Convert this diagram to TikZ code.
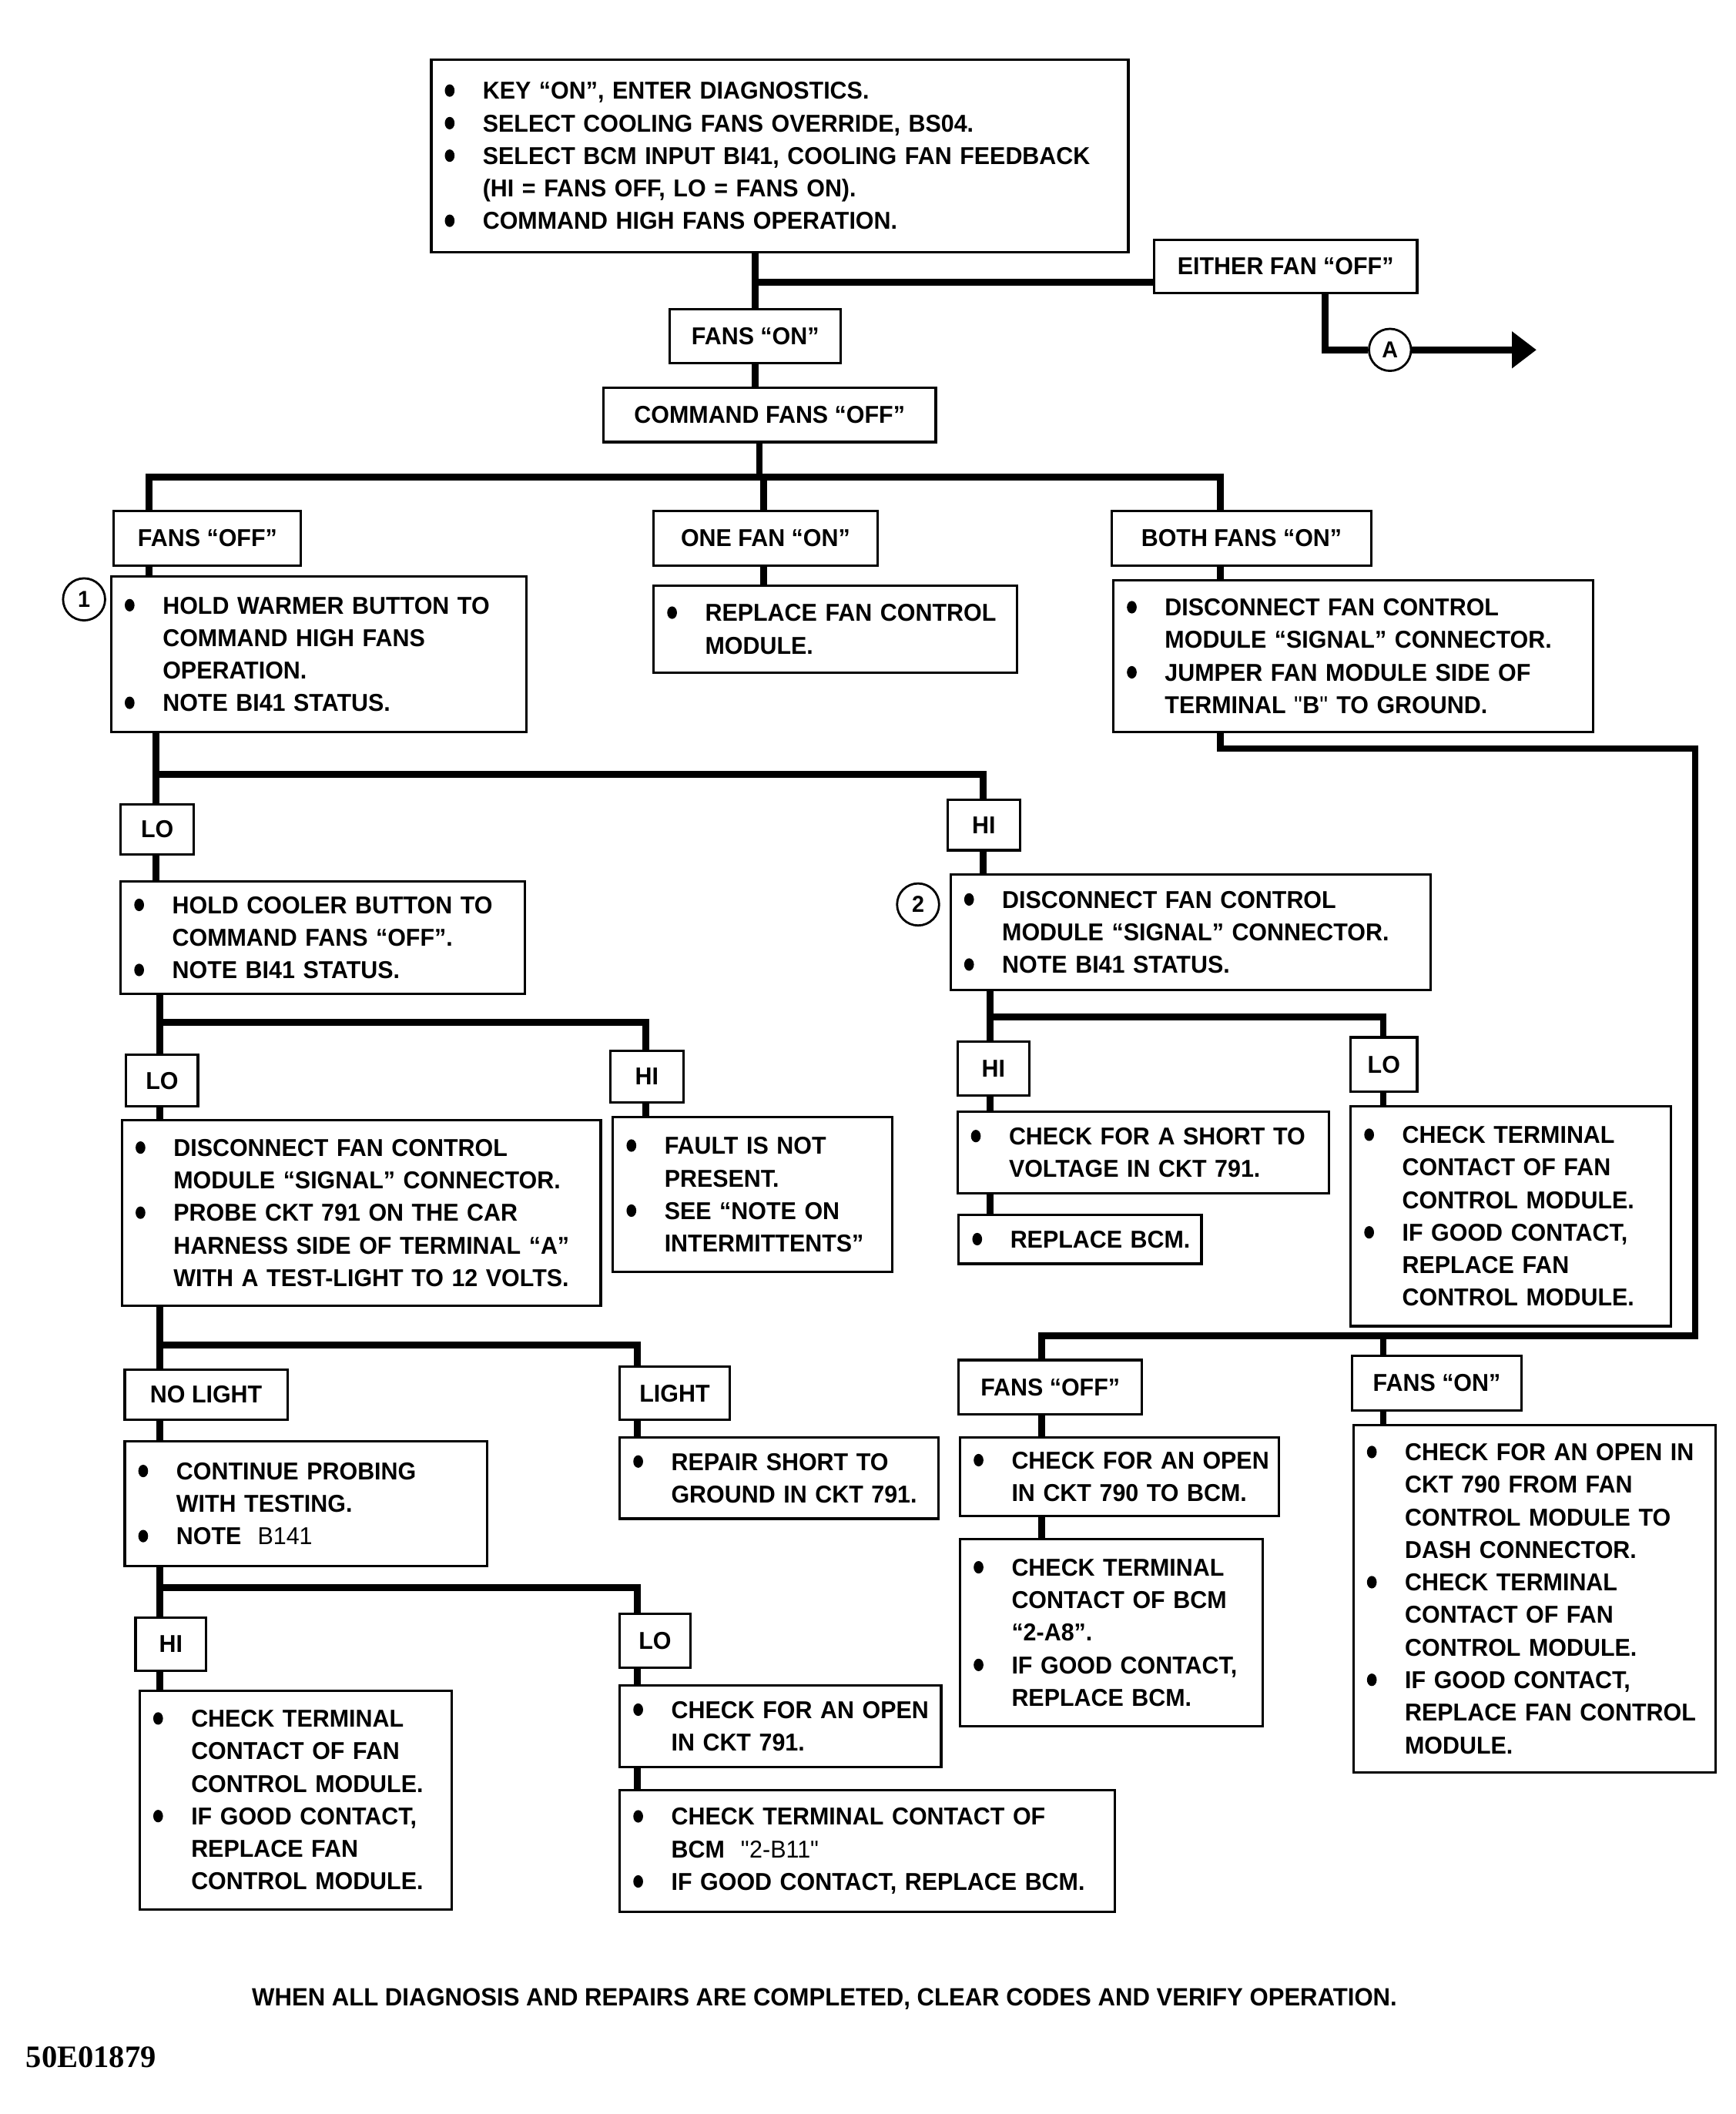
\documentclass[tikz,border=0pt]{standalone}
\usepackage{fontspec}
\setmainfont{Liberation Sans}[FakeStretch=0.96]
\newfontfamily\codefont{Liberation Serif}
\usetikzlibrary{arrows.meta}
\newcommand\bul{\tikz[baseline=0pt,x=1pt,y=1pt]\fill (3.6,6.4) ellipse [x radius=3.6, y radius=4.6];}
\newcommand\qd{{\mdseries\textquotedbl}}
\newcommand\bl[1]{\hspace*{10pt}\makebox[28pt][l]{\bul}\mbox{#1}}
\newcommand\cl[1]{\hspace*{38pt}\mbox{#1}}
\newcommand\bbox[6]{%
  \pgfmathsetmacro\bw{#4-#2}\pgfmathsetmacro\bh{#5-#3}%
  \node[box, minimum width=\bw pt, text width=\bw pt, minimum height=\bh pt] (#1) at ({(#2+#4)/2},{(#3+#5)/2}) {#6};}
\newcommand\lbox[6]{%
  \pgfmathsetmacro\bw{#4-#2}\pgfmathsetmacro\bh{#5-#3}%
  \node[lbl, minimum width=\bw pt, minimum height=\bh pt] (#1) at ({(#2+#4)/2},{(#3+#5)/2}) {#6};}
\begin{document}
\begin{tikzpicture}[x=1pt,y=-1pt,
  box/.style={draw, line width=1.8pt, inner xsep=0pt, inner ysep=0pt, align=left,
    font=\bfseries\fontsize{18}{24}\selectfont},
  lbl/.style={draw, line width=1.8pt, inner sep=0pt, align=center,
    font=\bfseries\fontsize{18}{24}\selectfont},
  conn/.style={line width=5pt},
  num/.style={draw, circle, line width=1.6pt, minimum size=31pt, inner sep=0pt,
    font=\bfseries\fontsize{17}{17}\selectfont}]
\fill[white] (0,0) rectangle (1280,1559);
\useasboundingbox (0,0) rectangle (1280,1559);

% ---------- boxes ----------
\bbox{top}{318}{44}{832}{186}{\bl{KEY “ON”, ENTER DIAGNOSTICS.}\\\bl{SELECT COOLING FANS OVERRIDE, BS04.}\\\bl{SELECT BCM INPUT BI41, COOLING FAN FEEDBACK}\\\cl{(HI = FANS OFF, LO = FANS ON).}\\\bl{COMMAND HIGH FANS OPERATION.}}
\lbox{either}{851}{177}{1045}{216}{EITHER FAN “OFF”}
\node[num] (A) at (1025,258) {A};
\coordinate (aend) at (1133,258);
\lbox{fanson}{494}{228}{620}{268}{FANS “ON”}
\lbox{cmdoff}{445}{286}{690}{326}{COMMAND FANS “OFF”}
\lbox{fansoff}{84}{377}{222}{417}{FANS “OFF”}
\lbox{onefan}{482}{377}{647}{417}{ONE FAN “ON”}
\lbox{bothon}{820}{377}{1011}{417}{BOTH FANS “ON”}

\bbox{box1}{82}{425}{388}{540}{\bl{HOLD WARMER BUTTON TO}\\\cl{COMMAND HIGH FANS}\\\cl{OPERATION.}\\\bl{NOTE BI41 STATUS.}}
\node[num] (c1) at (62,442) {1};
\bbox{onebox}{482}{432}{750}{496}{\bl{REPLACE FAN CONTROL}\\\cl{MODULE.}}
\bbox{bothbox}{821}{428}{1175}{540}{\bl{DISCONNECT FAN CONTROL}\\\cl{MODULE “SIGNAL” CONNECTOR.}\\\bl{JUMPER FAN MODULE SIDE OF}\\\cl{TERMINAL \qd B\qd{} TO GROUND.}}

\lbox{lo1}{89}{593}{143}{630}{LO}
\lbox{hi1}{699}{590}{752}{627}{HI}
\bbox{cool}{89}{650}{387}{733}{\bl{HOLD COOLER BUTTON TO}\\\cl{COMMAND FANS “OFF”.}\\\bl{NOTE BI41 STATUS.}}
\bbox{box2}{701}{645}{1055}{730}{\bl{DISCONNECT FAN CONTROL}\\\cl{MODULE “SIGNAL” CONNECTOR.}\\\bl{NOTE BI41 STATUS.}}
\node[num] (c2) at (677,667) {2};

\lbox{lo2}{93}{778}{146}{816}{LO}
\lbox{hi2}{450}{775}{504}{813}{HI}
\lbox{hi3}{706}{768}{759}{808}{HI}
\lbox{lo3}{996}{765}{1045}{805}{LO}

\bbox{disc}{90}{826}{443}{963}{\bl{DISCONNECT FAN CONTROL}\\\cl{MODULE “SIGNAL” CONNECTOR.}\\\bl{PROBE CKT 791 ON THE CAR}\\\cl{HARNESS SIDE OF TERMINAL “A”}\\\cl{WITH A TEST-LIGHT TO 12 VOLTS.}}
\bbox{fault}{452}{824}{658}{938}{\bl{FAULT IS NOT}\\\cl{PRESENT.}\\\bl{SEE “NOTE ON}\\\cl{INTERMITTENTS”}}
\bbox{short}{706}{820}{980}{880}{\bl{CHECK FOR A SHORT TO}\\\cl{VOLTAGE IN CKT 791.}}
\bbox{replbcm}{707}{896}{886}{932}{\bl{REPLACE BCM.}}
\bbox{term1}{996}{816}{1232}{978}{\bl{CHECK TERMINAL}\\\cl{CONTACT OF FAN}\\\cl{CONTROL MODULE.}\\\bl{IF GOOD CONTACT,}\\\cl{REPLACE FAN}\\\cl{CONTROL MODULE.}}

\lbox{nolight}{92}{1010}{212}{1047}{NO LIGHT}
\lbox{light}{457}{1008}{538}{1047}{LIGHT}
\lbox{fansoff2}{707}{1003}{842}{1043}{FANS “OFF”}
\lbox{fanson2}{997}{1000}{1122}{1040}{FANS “ON”}

\bbox{cont}{92}{1063}{359}{1155}{\bl{CONTINUE PROBING}\\\cl{WITH TESTING.}\\\bl{NOTE \ {\mdseries B141}}}
\bbox{repair}{457}{1060}{692}{1120}{\bl{REPAIR SHORT TO}\\\cl{GROUND IN CKT 791.}}
\bbox{open790}{708}{1060}{943}{1118}{\bl{CHECK FOR AN OPEN}\\\cl{IN CKT 790 TO BCM.}}
\bbox{term2a8}{708}{1135}{931}{1273}{\bl{CHECK TERMINAL}\\\cl{CONTACT OF BCM}\\\cl{“2-A8”.}\\\bl{IF GOOD CONTACT,}\\\cl{REPLACE BCM.}}
\bbox{big}{998}{1051}{1265}{1307}{\bl{CHECK FOR AN OPEN IN}\\\cl{CKT 790 FROM FAN}\\\cl{CONTROL MODULE TO}\\\cl{DASH CONNECTOR.}\\\bl{CHECK TERMINAL}\\\cl{CONTACT OF FAN}\\\cl{CONTROL MODULE.}\\\bl{IF GOOD CONTACT,}\\\cl{REPLACE FAN CONTROL}\\\cl{MODULE.}}

\lbox{hi4}{100}{1193}{152}{1232}{HI}
\lbox{lo4}{457}{1190}{509}{1230}{LO}
\bbox{term3}{103}{1247}{333}{1408}{\bl{CHECK TERMINAL}\\\cl{CONTACT OF FAN}\\\cl{CONTROL MODULE.}\\\bl{IF GOOD CONTACT,}\\\cl{REPLACE FAN}\\\cl{CONTROL MODULE.}}
\bbox{open791}{457}{1243}{694}{1303}{\bl{CHECK FOR AN OPEN}\\\cl{IN CKT 791.}}
\bbox{b11}{457}{1320}{822}{1410}{\bl{CHECK TERMINAL CONTACT OF}\\\cl{BCM \ {\mdseries\textquotedbl 2-B11\textquotedbl}}\\\bl{IF GOOD CONTACT, REPLACE BCM.}}

\node[font=\bfseries\fontsize{18.4}{20}\selectfont] (foot) at (608,1474) {WHEN ALL DIAGNOSIS AND REPAIRS ARE COMPLETED, CLEAR CODES AND VERIFY OPERATION.};
\node[font=\codefont\bfseries\fontsize{23}{23}\selectfont, anchor=west, inner sep=0pt] (code) at (19,1517) {50E01879};

% ---------- connector guide coordinates ----------
\coordinate (xA) at (557,0);  \coordinate (xB) at (560,0);
\coordinate (xC) at (110,0);  \coordinate (xD) at (563,0);
\coordinate (xE) at (900,0);  \coordinate (xF) at (115,0);
\coordinate (xG) at (725,0);  \coordinate (xH) at (118,0);
\coordinate (xI) at (476,0);  \coordinate (xJ) at (730,0);
\coordinate (xK) at (1020,0); \coordinate (xL) at (470,0);
\coordinate (xM) at (768,0);  \coordinate (xN) at (1020,0);
\coordinate (xR) at (1250,0); \coordinate (xQ) at (977,0);
\coordinate (ey) at (0,208);
\coordinate (y1) at (0,352);  \coordinate (y2) at (0,571);
\coordinate (y3) at (0,754);  \coordinate (y4) at (0,750);
\coordinate (y5) at (0,992);  \coordinate (y6) at (0,1171);
\coordinate (y7) at (0,552);  \coordinate (y8) at (0,985);

% ---------- connectors ----------
\draw[conn] (top.south -| xA) -- (fanson.north -| xA);
\draw[conn] (ey -| either.west) -- (ey -| xA);
\draw[conn] (either.south -| xQ) |- (A.west);
\draw[conn,-{Triangle[length=18pt,width=26pt]}] (A.east) -- (aend);
\draw[conn] (fanson.south -| xA) -- (cmdoff.north -| xA);
\draw[conn] (cmdoff.south -| xB) -- (y1 -| xB);
\draw[conn] (fansoff.north -| xC) |- (y1 -| xE) -- (bothon.north -| xE);
\draw[conn] (onefan.north -| xD) -- (y1 -| xD);
\draw[conn] (fansoff.south -| xC) -- (box1.north -| xC);
\draw[conn] (onefan.south -| xD) -- (onebox.north -| xD);
\draw[conn] (bothon.south -| xE) -- (bothbox.north -| xE);
\draw[conn] (bothbox.south -| xE) |- (y7 -| xR) |- (y8 -| xM) -- (fansoff2.north -| xM);
\draw[conn] (y8 -| xN) -- (fanson2.north -| xN);

\draw[conn] (box1.south -| xF) -- (lo1.north -| xF);
\draw[conn] (y2 -| xF) -- (y2 -| xG) -- (hi1.north -| xG);
\draw[conn] (lo1.south -| xF) -- (cool.north -| xF);
\draw[conn] (hi1.south -| xG) -- (box2.north -| xG);

\draw[conn] (cool.south -| xH) -- (lo2.north -| xH);
\draw[conn] (y3 -| xH) -- (y3 -| xI) -- (hi2.north -| xI);
\draw[conn] (box2.south -| xJ) -- (hi3.north -| xJ);
\draw[conn] (y4 -| xJ) -- (y4 -| xK) -- (lo3.north -| xK);

\draw[conn] (lo2.south -| xH) -- (disc.north -| xH);
\draw[conn] (hi2.south -| xI) -- (fault.north -| xI);
\draw[conn] (hi3.south -| xJ) -- (short.north -| xJ);
\draw[conn] (short.south -| xJ) -- (replbcm.north -| xJ);
\draw[conn] (lo3.south -| xK) -- (term1.north -| xK);

\draw[conn] (disc.south -| xH) -- (nolight.north -| xH);
\draw[conn] (y5 -| xH) -- (y5 -| xL) -- (light.north -| xL);
\draw[conn] (nolight.south -| xH) -- (cont.north -| xH);
\draw[conn] (light.south -| xL) -- (repair.north -| xL);
\draw[conn] (fansoff2.south -| xM) -- (open790.north -| xM);
\draw[conn] (open790.south -| xM) -- (term2a8.north -| xM);
\draw[conn] (fanson2.south -| xN) -- (big.north -| xN);

\draw[conn] (cont.south -| xH) -- (hi4.north -| xH);
\draw[conn] (y6 -| xH) -- (y6 -| xL) -- (lo4.north -| xL);
\draw[conn] (hi4.south -| xH) -- (term3.north -| xH);
\draw[conn] (lo4.south -| xL) -- (open791.north -| xL);
\draw[conn] (open791.south -| xL) -- (b11.north -| xL);
\end{tikzpicture}
\end{document}
